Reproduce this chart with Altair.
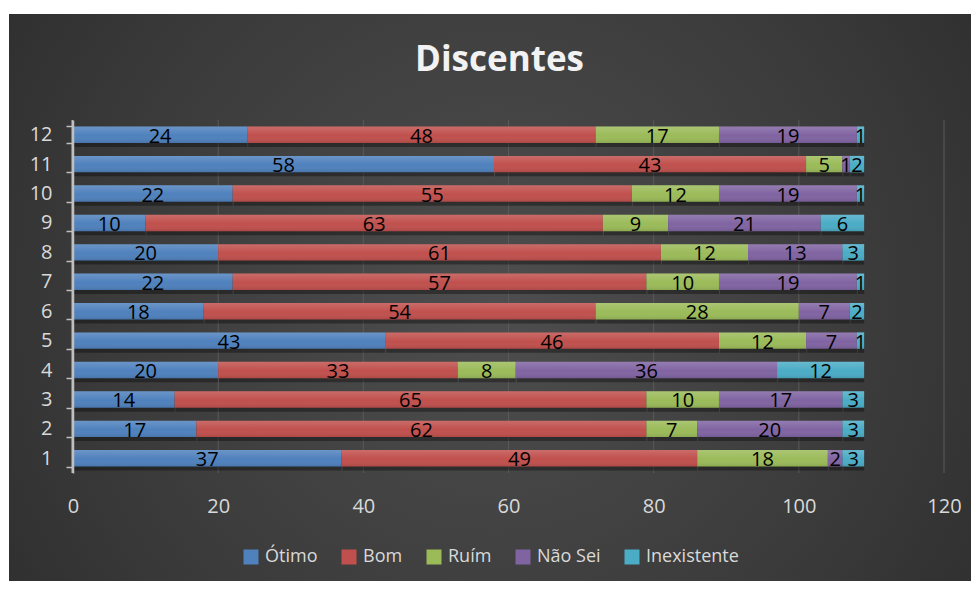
import altair as alt
import pandas as pd

categories = [1, 2, 3, 4, 5, 6, 7, 8, 9, 10, 11, 12]
series_names = ["Ótimo", "Bom", "Ruím", "Não Sei", "Inexistente"]
series_colors = ["#4f81bd", "#c0504d", "#9bbb59", "#8064a2", "#4bacc6"]
otimo = [37, 17, 14, 20, 43, 18, 22, 20, 10, 22, 58, 24]
bom = [49, 62, 65, 33, 46, 54, 57, 61, 63, 55, 43, 48]
ruim = [18, 7, 10, 8, 12, 28, 10, 12, 9, 12, 5, 17]
nao_sei = [2, 20, 17, 36, 7, 7, 19, 13, 21, 19, 1, 19]
inexistente = [3, 3, 3, 12, 1, 2, 1, 3, 6, 1, 2, 1]
x_ticks = [0, 20, 40, 60, 80, 100, 120]
grid_values = [20, 40, 60, 80, 100, 120]

series_values = [otimo, bom, ruim, nao_sei, inexistente]
rows = []
for si, (name, vals) in enumerate(zip(series_names, series_values)):
    for c, v in zip(categories, vals):
        rows.append({"cat": c, "serie": name, "value": v, "ord": si})
df = pd.DataFrame(rows)

W, H = 871, 353
PAD_L, PAD_T = 65, 112

base = alt.Chart(df).transform_stack(
    stack="value", groupby=["cat"], as_=["start", "end"],
    sort=[alt.SortField("ord", order="ascending")]
).transform_calculate(mid="(datum.start + datum.end) / 2")

y_enc = alt.Y("cat:O", sort="descending", title=None,
              scale=alt.Scale(paddingInner=0.44, paddingOuter=0.22),
              axis=alt.Axis(labelColor="#d9d9d9", labelFontSize=20, labelFont="Open Sans",
                            domain=True, domainColor="#bfbfbf", domainWidth=1.5,
                            ticks=True, tickColor="#bfbfbf", tickWidth=1.5, tickBand="extent",
                            tickSize=7, labelPadding=14, grid=False, zindex=1))
x_enc = alt.X("start:Q", title=None,
              scale=alt.Scale(domain=[0, 120], nice=False, zero=True),
              axis=alt.Axis(values=x_ticks, grid=False, labelFlush=False,
                            domain=False, ticks=False, labelColor="#d9d9d9", labelFontSize=20,
                            labelFont="Open Sans", labelPadding=23, zindex=1))

bg = alt.Chart(pd.DataFrame({"a": [0]})).mark_rect(
    fill=alt.RadialGradient(
        gradient="radial",
        stops=[alt.GradientStop(color="#4e4e4e", offset=0),
               alt.GradientStop(color="#3a3a3a", offset=0.55),
               alt.GradientStop(color="#262626", offset=1)],
        x1=0.5, y1=0.5, r1=0, x2=0.5, y2=0.5, r2=0.75),
).encode(x=alt.value(-64), x2=alt.value(979 - 73), y=alt.value(-106), y2=alt.value(589 - 120))

grid = alt.Chart(pd.DataFrame({"g": grid_values})).mark_rule(
    color="#5a5a5a", strokeWidth=1).encode(x=alt.X("g:Q"))

shadow = base.mark_bar(color="#000000", opacity=0.35, yOffset=4, xOffset=1).encode(
    y=y_enc, x=x_enc, x2="end:Q",
    detail="serie:N")

bars = base.mark_bar().encode(
    y=y_enc, x=x_enc, x2="end:Q",
    color=alt.Color("serie:N",
                    scale=alt.Scale(domain=series_names, range=series_colors),
                    legend=alt.Legend(title=None, orient="none", legendX=169, legendY=428,
                                      direction="horizontal", symbolType="square",
                                      symbolSize=225, symbolStrokeWidth=0,
                                      labelFontSize=18, labelFont="Open Sans",
                                      labelColor="#d9d9d9", columnPadding=22,
                                      labelOffset=5)),
    order=alt.Order("ord:Q"))

gloss = base.mark_bar(
    fill=alt.LinearGradient(
        gradient="linear",
        stops=[alt.GradientStop(color="rgba(255,255,255,0.16)", offset=0),
               alt.GradientStop(color="rgba(255,255,255,0)", offset=0.55),
               alt.GradientStop(color="rgba(0,0,0,0.10)", offset=1)],
        x1=0, y1=0, x2=0, y2=1),
).encode(y=y_enc, x=x_enc, x2="end:Q", detail="serie:N")

labels = base.mark_text(color="#000000", fontSize=20, font="Open Sans", dy=2).encode(
    y=y_enc, x=alt.X("mid:Q"), text="value:Q")

axis_line = alt.Chart(pd.DataFrame({"z": [0]})).mark_rule(
    color="#bfbfbf", strokeWidth=1.5, xOffset=-0.75).encode(x=alt.X("z:Q"))

chart = alt.layer(bg, grid, shadow, bars, gloss, labels, axis_line).properties(
    width=W, height=H,
    title=alt.TitleParams("Discentes", fontSize=35, font="Open Sans", fontWeight="bold",
                          color="#f2f2f2", anchor="middle", offset=-64, dx=-9),
    autosize=alt.AutoSizeParams(type="none"),
    padding={"left": PAD_L, "top": PAD_T, "right": 27, "bottom": 108},
    background="white",
).configure_view(stroke=None)

chart.save("out.html", embed_options={"renderer": "svg", "actions": False})
